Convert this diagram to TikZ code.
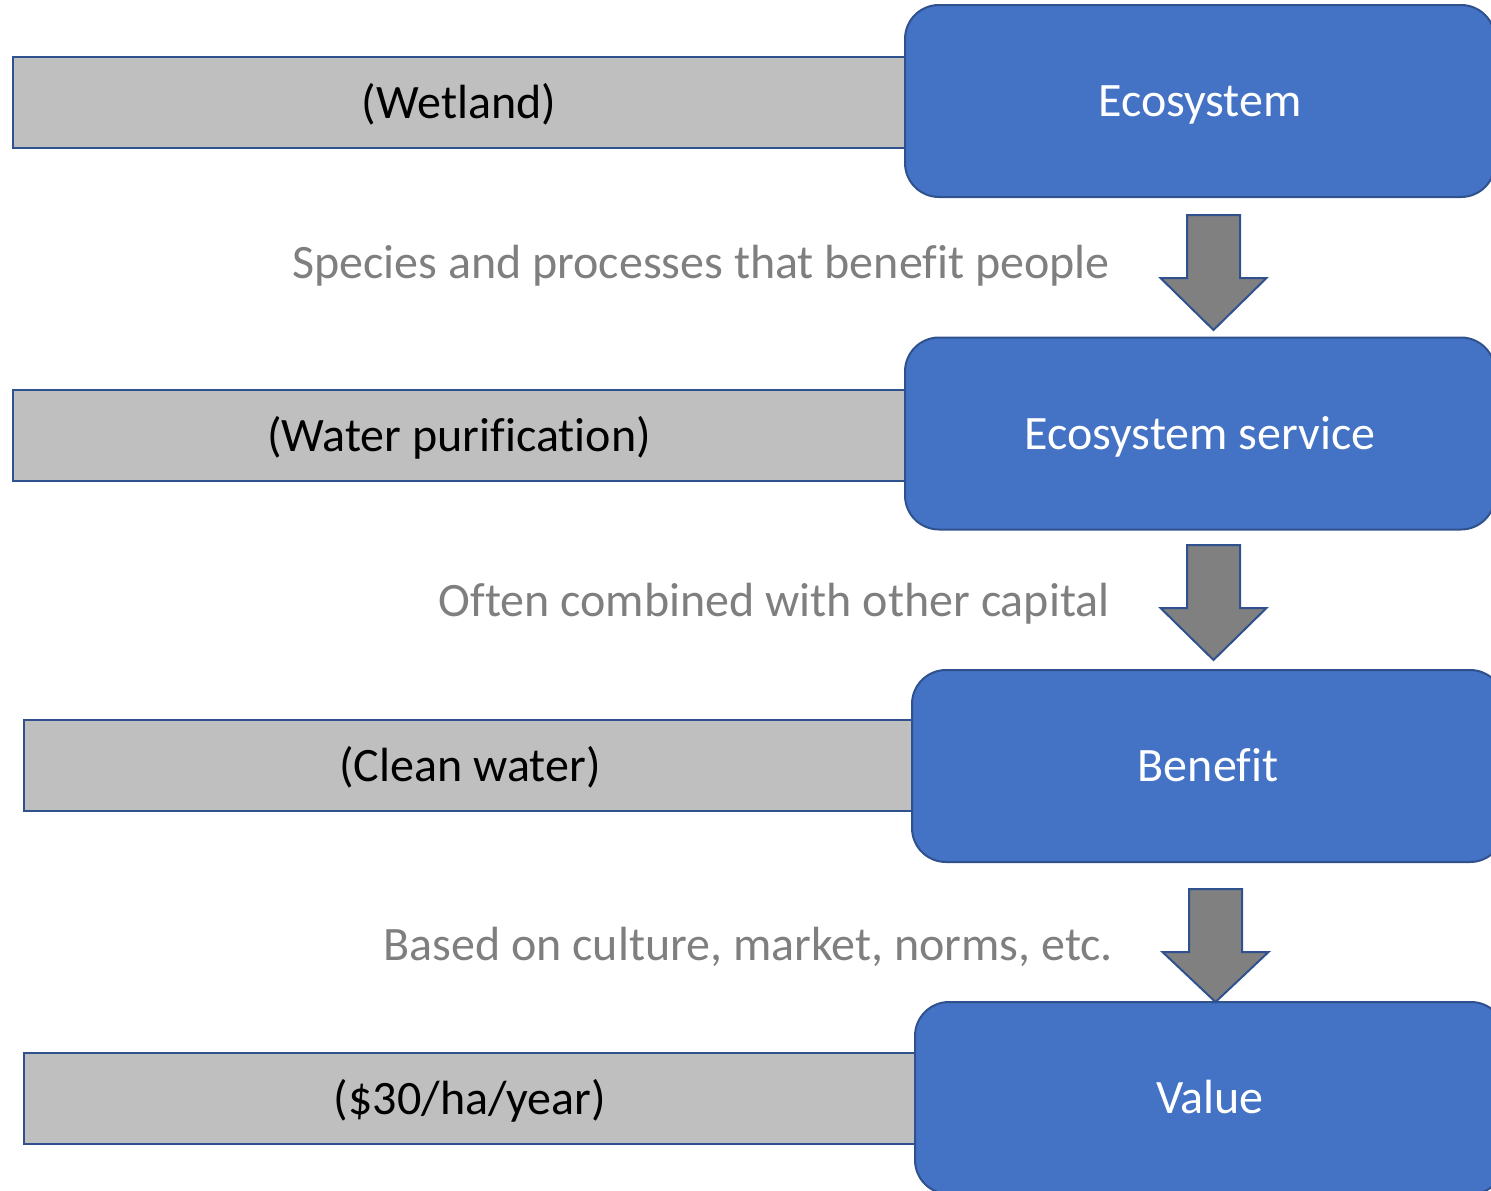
\documentclass[tikz,border=0pt]{standalone}
\usepackage{fontspec}
\setmainfont[Ligatures=NoCommon]{Carlito}
\usetikzlibrary{calc}
\definecolor{boxblue}{HTML}{4472C4}
\definecolor{edgeblue}{HTML}{2F528F}
\definecolor{barfill}{HTML}{BFBFBF}
\definecolor{arrfill}{HTML}{808080}
\definecolor{notegray}{HTML}{7F7F7F}
\begin{document}
\begin{tikzpicture}[x=1pt,y=-1pt,
  txt/.style={font=\fontsize{48}{52}\selectfont,text height=31pt,text depth=0pt},
  bluebox/.style={txt,draw=edgeblue,line width=2pt,fill=boxblue,rounded corners=34pt,
    text=white,inner sep=0pt},
  greybar/.style={txt,draw=edgeblue,line width=2pt,fill=barfill,text=black,inner sep=0pt},
  note/.style={txt,text=notegray,anchor=east,inner sep=0pt},
  blockarrow/.style={draw=edgeblue,line width=2pt,fill=arrfill,line join=miter}]
\useasboundingbox (0,0) rectangle (1491,1191);
% grey bars
\node[greybar,minimum width=892pt,minimum height=91pt] (b1) at (459,102.5) {(Wetland)};
\node[greybar,minimum width=892pt,minimum height=91pt] (b2) at (459,435.5) {(Water purification)};
\node[greybar,minimum width=892pt,minimum height=91pt] (b3) at (470,765.5) {(Clean water)};
\node[greybar,minimum width=892pt,minimum height=91pt] (b4) at (470,1098.5) {(\$30/ha/year)};
% blue boxes
\node[bluebox,minimum width=590pt,minimum height=192pt] (e1) at (1200,101) {Ecosystem};
\node[bluebox,minimum width=590pt,minimum height=192pt] (e2) at (1200,433.5) {Ecosystem service};
\node[bluebox,minimum width=592pt,minimum height=192pt] (e3) at (1208,766) {Benefit};
\node[bluebox,minimum width=590pt,minimum height=192pt] (e4) at (1210,1098) {Value};
% notes
\node[note] (n1) at (1110,263) {Species and processes that benefit people};
\node[note] (n2) at (1110,601) {Often combined with other capital};
\node[note] (n3) at (1113,945) {Based on culture, market, norms, etc.};
% block arrows
\coordinate (a1) at (1213.5,215);
\coordinate (a2) at (1213.5,545);
\coordinate (a3) at (1215.5,889);
\foreach \a/\tip in {a1/330,a2/660,a3/1002}{
  \draw[blockarrow] ($(\a)+(-26.5,0)$) -- ($(\a)+(26.5,0)$) -- ($(\a)+(26.5,63)$)
    -- ($(\a)+(53,63)$) -- (\a |- 0,\tip) -- ($(\a)+(-53,63)$) -- ($(\a)+(-26.5,63)$) -- cycle;
}
\end{tikzpicture}
\end{document}
